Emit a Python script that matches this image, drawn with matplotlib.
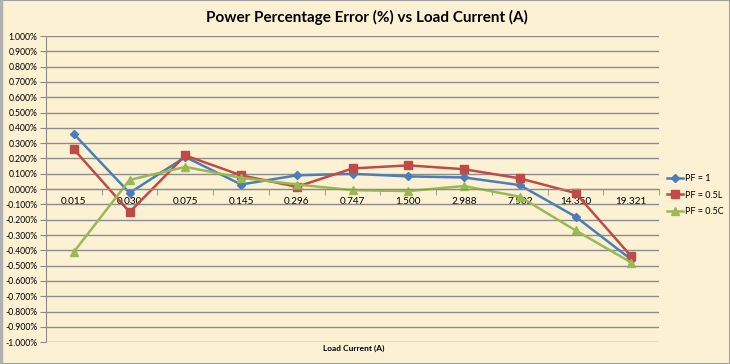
import matplotlib
matplotlib.use("Agg")
import matplotlib.pyplot as plt
from matplotlib.ticker import FuncFormatter, FixedLocator

categories = ["0.015", "0.030", "0.075", "0.145", "0.296", "0.747", "1.500", "2.988", "7.502", "14.350", "19.321"]
pf1 = [0.36, -0.025, 0.21, 0.03, 0.09, 0.10, 0.083, 0.076, 0.026, -0.18, -0.46]
pf05l = [0.26, -0.15, 0.22, 0.09, 0.015, 0.135, 0.155, 0.13, 0.07, -0.026, -0.44]
pf05c = [-0.41, 0.06, 0.145, 0.074, 0.03, -0.007, -0.013, 0.02, -0.05, -0.27, -0.48]
series_names = ["PF = 1", "PF = 0.5L", "PF = 0.5C"]
title = "Power Percentage Error (%) vs Load Current (A)"
xlabel = "Load Current (A)"

plt.rcParams["font.family"] = ["Lato", "DejaVu Sans"]

bg = "#FDF1D3"
fig = plt.figure(figsize=(7.3, 3.64), dpi=100, facecolor=bg)
ax = fig.add_axes([0.063, 0.060, 0.840, 0.841], facecolor=bg)

x = list(range(len(categories)))
ax.plot(x, pf1, color="#4A7EBB", lw=1.8, marker="D", ms=4.5, label=series_names[0])
ax.plot(x, pf05l, color="#BE4B48", lw=1.8, marker="s", ms=5.5, label=series_names[1])
ax.plot(x, pf05c, color="#98B954", lw=1.8, marker="^", ms=6, label=series_names[2])

ax.set_xlim(-0.5, len(categories) - 0.5)
ax.set_ylim(-1.0, 1.0)
ax.yaxis.set_major_locator(FixedLocator([i / 10 for i in range(-10, 11)]))
ax.yaxis.set_major_formatter(FuncFormatter(lambda v, p: f"{v:.3f}%"))
ax.grid(axis="y", color="#8C8C8C", lw=1.0)
ax.set_axisbelow(True)

for s in ["top", "right"]:
    ax.spines[s].set_visible(False)
ax.spines["left"].set_color("#8C8C8C")
ax.spines["bottom"].set_color("#8C8C8C")
ax.spines["bottom"].set_position(("data", 0))

ax.set_xticks(x)
ax.set_xticklabels(categories)
ax.set_xticks([i - 0.5 for i in range(len(categories) + 1)], minor=True)
ax.tick_params(axis="x", which="major", length=0, pad=6, labelsize=7.2, colors="black")
ax.tick_params(axis="x", which="minor", length=4, direction="out", color="#8C8C8C")
ax.tick_params(axis="y", length=4, direction="out", color="#8C8C8C", labelsize=6.2, pad=2)

fig.text(0.503, 0.953, title, ha="center", va="center", fontsize=11, fontweight="bold")
fig.text(0.484, 0.043, xlabel, ha="center", va="center", fontsize=6, fontweight="bold")

leg = fig.legend(loc="center left", bbox_to_anchor=(0.914, 0.464), frameon=False, fontsize=6.5,
                 handlelength=1.8, handletextpad=0.2, labelspacing=0.85, borderaxespad=0, borderpad=0)

fig.add_artist(plt.Line2D([0.002, 0.002], [0, 1], color="#B0B0B0", lw=2.5, transform=fig.transFigure))
fig.add_artist(plt.Rectangle((0, 0), 1, 1, fill=False, ec="#A0A0A0", lw=1.5, transform=fig.transFigure))

fig.savefig("out.png", dpi=100, facecolor=bg)
